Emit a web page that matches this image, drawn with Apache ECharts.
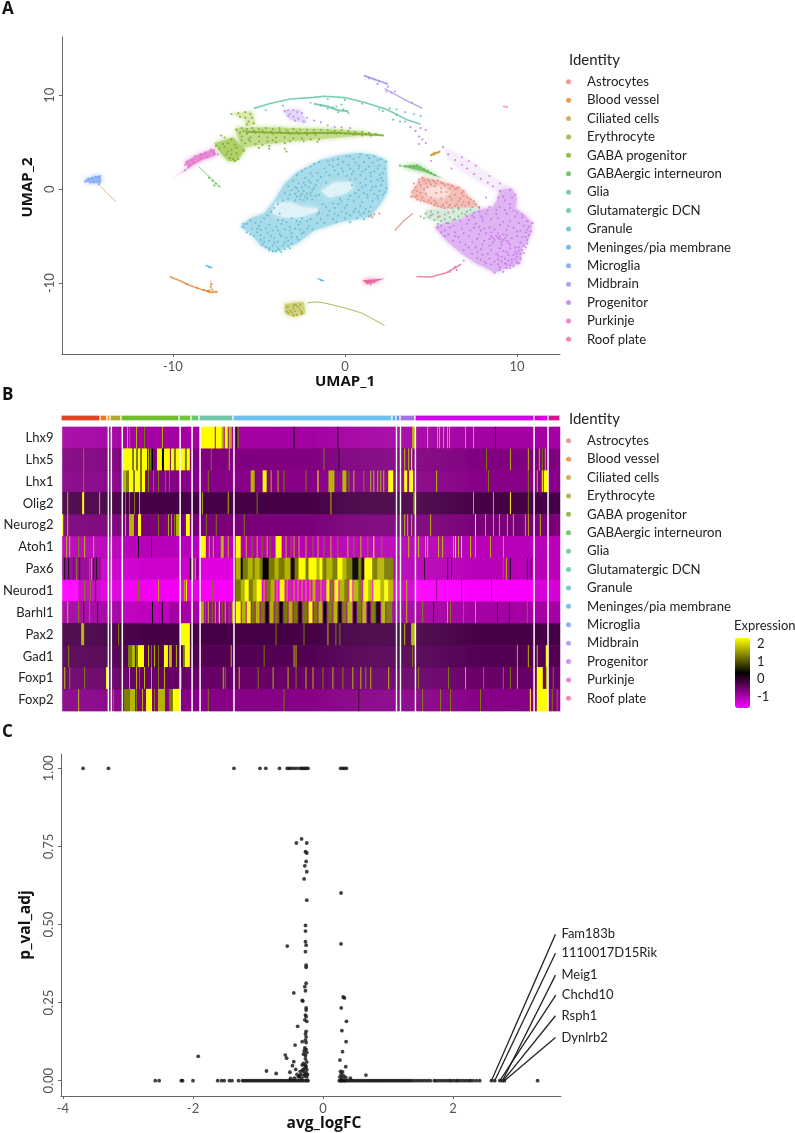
<!DOCTYPE html>
<html><head><meta charset="utf-8">
<style>html,body{margin:0;padding:0;background:#fff}#main{width:795px;height:1133px;filter:blur(0.6px)}</style>
<script src="https://cdn.jsdelivr.net/npm/echarts@6/dist/echarts.min.js"></script></head>
<body><div id="main"></div>
<script>
// ---- identities
const identities=['Astrocytes','Blood vessel','Ciliated cells','Erythrocyte','GABA progenitor','GABAergic interneuron','Glia','Glutamatergic DCN','Granule','Meninges/pia membrane','Microglia','Midbrain','Progenitor','Purkinje','Roof plate'];
const identityColors=['#e5837b','#e0862e','#cc9a2f','#a3a42a','#7ca824','#55b647','#5fbf85','#5bbfa5','#5cb8d0','#50b0ea','#6f9df5','#a98bf0','#cb72e8','#e268c8','#e86aa0'];
const stripColors=['#e0431f','#e87c22','#dba32e','#b3a82e','#6fbf2c','#6ec83a','#62c86c','#6ec8a8','#6cc0ee','#5eb0f0','#6a94f0','#a473e8','#d000ee','#d400e0','#d8128e'];
// ---- heatmap: cells per identity
const cellCounts=[39,7,3,11,58,12,8,34,159,4,4,15,119,14,12];
const genes=['Lhx9','Lhx5','Lhx1','Olig2','Neurog2','Atoh1','Pax6','Neurod1','Barhl1','Pax2','Gad1','Foxp1','Foxp2'];
const geneBase=[-0.95,-0.66,-0.72,-0.22,-0.62,-1.1,-1.1,-1.5,-0.95,-0.22,-0.32,-0.48,-0.72];
const Y=2.34,T=1.75,O=1.3,D=0.3,K=0.1;
const Lhx9=[[65,T],[67,O],[74,T],[82,O],[100,T],[139,152,Y],[154,159,Y],[160,161,T],[163,165,Y],[167,169,T],[174,D],[176,O],[232,D],[276,D],[351,353,T],[366,T],[376,T],[378,T],[382,T],[386,T],[388,T],[404,T],[412,T],[434,K]];
const Lhx5=[[21,O],[61,69,Y],[70,71,O],[72,73,Y],[74,75,O],[76,77,Y],[78,79,O],[80,84,Y],[86,T],[88,O],[90,D],[95,99,Y],[100,101,D],[102,107,Y],[109,111,Y],[112,113,O],[114,116,Y],[119,122,Y],[123,124,O],[125,127,Y],[149,O],[167,T],[262,O],[277,K],[343,T],[347,T],[350,Y],[425,O],[449,T],[467,T],[478,T],[481,O],[484,T]];
const Lhx1=[[21,O],[61,63,T],[64,66,O],[67,70,Y],[71,72,O],[73,77,Y],[78,79,O],[80,82,Y],[86,O],[91,O],[96,O],[103,O],[107,O],[146,O],[189,192,T],[201,204,Y],[209,T],[216,T],[222,O],[244,O],[256,Y],[267,272,T],[281,284,T],[287,O],[292,T],[302,O],[309,T],[312,T],[316,T],[319,T],[322,T],[327,331,Y],[343,345,Y],[348,351,Y],[375,T],[427,O],[467,O],[476,T],[481,Y],[483,485,Y]];
const Olig2=[[5,T],[20,21,Y],[37,T],[63,O],[67,O],[72,O],[77,T],[140,T],[166,T],[195,O],[269,T],[352,O],[412,T],[432,T],[449,Y],[467,O],[472,473,Y]];
const Neurog2=[[0,Y],[5,T],[63,T],[67,71,T],[76,78,Y],[96,O],[106,T],[109,T],[112,O],[114,117,T],[124,127,Y],[144,O],[154,O],[182,O],[343,T],[346,T],[350,T],[369,T],[414,Y],[424,T],[432,T],[438,T],[446,T],[452,T],[464,T],[467,T],[479,T]];
const Atoh1=[[4,T],[7,T],[16,O],[22,T],[31,T],[76,K],[89,K],[139,143,Y],[147,T],[151,T],[159,161,T],[166,T],[174,178,Y],[184,T],[190,O],[195,T],[200,O],[205,T],[208,O],[214,219,Y],[224,T],[229,O],[232,T],[237,T],[244,T],[251,O],[256,T],[262,O],[269,T],[276,O],[286,T],[292,O],[299,T],[306,O],[312,Y],[320,O],[347,T],[357,T],[364,T],[366,T],[377,T],[381,T],[392,T],[394,Y],[397,T],[400,Y],[409,T],[414,T],[429,T],[442,T]];
const Pax6=[[0,38,-0.85],[2,D],[6,D],[11,K],[14,O],[17,D],[27,O],[29,T],[31,D],[34,K],[39,60,-1.25],[61,127,-1.28],[128,K],[131,O],[133,T],[135,K],[137,172,-1.42],[174,178,T],[179,180,D],[181,185,O],[186,190,T],[191,192,O],[193,197,T],[198,200,O],[201,206,D],[207,212,O],[213,216,T],[217,222,O],[223,228,T],[229,232,K],[233,236,O],[237,243,Y],[244,246,O],[247,254,Y],[255,257,T],[258,260,Y],[261,264,O],[265,270,T],[271,275,O],[276,280,Y],[281,284,T],[285,290,O],[291,296,D],[297,299,O],[300,302,K],[303,310,Y],[311,315,O],[316,322,T],[323,331,O],[363,K],[386,D],[390,K],[442,O],[445,T],[449,K],[466,K],[470,D]];
const Neurod1=[[0,15,-1.66],[16,38,-1.25],[22,O],[28,O],[33,K],[39,60,-1.4],[61,120,-1.55],[76,O],[96,T],[122,T],[124,Y],[137,172,-1.62],[150,O],[174,178,O],[179,182,T],[183,186,Y],[187,190,O],[191,194,T],[195,199,Y],[202,T],[205,208,O],[209,212,T],[215,T],[218,222,Y],[225,T],[228,O],[232,T],[236,T],[240,T],[244,T],[248,T],[251,253,T],[256,O],[259,T],[262,O],[265,267,Y],[269,271,O],[273,276,Y],[278,282,T],[283,286,O],[288,290,Y],[292,296,T],[297,300,O],[302,306,Y],[307,310,T],[312,318,Y],[319,322,T],[323,326,Y],[327,331,T],[340,353,-1.3],[345,T],[355,472,-1.62],[375,-0.8],[400,-0.8],[430,-0.8],[474,498,-1.35]];
const Barhl1=[[5,T],[16,O],[21,D],[27,O],[35,D],[61,107,-1.15],[90,D],[100,K],[139,141,T],[143,O],[146,T],[150,O],[153,T],[157,Y],[160,O],[163,T],[167,O],[170,T],[174,178,Y],[180,183,T],[185,188,Y],[190,192,O],[194,197,T],[199,202,O],[204,206,D],[208,211,T],[213,216,O],[218,220,D],[222,225,O],[227,230,T],[232,235,O],[237,239,D],[241,245,O],[247,250,Y],[252,255,O],[257,260,T],[262,264,D],[266,270,O],[272,275,T],[277,279,D],[281,284,O],[286,290,T],[292,294,D],[296,299,O],[301,304,T],[306,308,K],[310,313,O],[315,318,D],[320,323,T],[325,330,O],[345,T],[361,O],[372,D],[386,T],[389,O],[402,O],[414,T],[436,D],[448,D],[466,O]];
const Pax2=[[19,21,T],[56,O],[119,127,Y],[214,O],[242,O],[266,T],[274,O],[278,O],[343,T],[350,352,T]];
const Gad1=[[6,O],[66,69,O],[70,72,T],[74,75,O],[76,81,Y],[86,T],[89,O],[92,T],[96,O],[102,105,Y],[107,109,T],[114,T],[121,122,O],[123,127,Y],[169,T],[202,O],[232,T],[234,T],[351,O],[456,T],[467,T],[476,T],[485,Y]];
const Foxp1=[[2,T],[7,O],[22,O],[44,Y],[46,T],[67,T],[74,T],[77,O],[82,T],[89,T],[96,O],[102,T],[119,O],[129,T],[161,T],[163,O],[177,T],[196,O],[211,T],[226,T],[234,O],[244,T],[251,T],[261,O],[271,T],[281,O],[291,T],[299,T],[304,O],[309,T],[327,T],[357,O],[387,O],[404,T],[422,O],[442,O],[449,O],[456,T],[476,481,Y],[485,T],[492,O]];
const Foxp2=[[16,T],[51,O],[62,67,O],[68,72,T],[74,O],[80,T],[84,89,Y],[92,O],[96,102,T],[107,110,O],[111,116,Y],[146,O],[222,O],[297,K],[361,O],[379,O],[389,O],[419,O],[469,Y],[476,486,Y],[491,O],[496,O]];
const geneRuns=[Lhx9,Lhx5,Lhx1,Olig2,Neurog2,Atoh1,Pax6,Neurod1,Barhl1,Pax2,Gad1,Foxp1,Foxp2];
// ---- UMAP clusters: individual cells
const astrocytes=[[4.5,1.2],[4.3,.7],[4.1,.2],[3.9,-.3],[3.85,-.8],[4.2,-1.1],[4.6,-1.3],[5,-1.5],[5.4,-1.8],[5.8,-2],[6.2,-2],[6.6,-1.9],[7,-1.8],[7.4,-1.9],[7.8,-1.9],[7.5,-1.3],[7.1,-.9],[6.8,-.4],[6.4,0],[6.6,.2],[6,.5],[5.6,.7],[5.1,.9],[4.8,1],[5.2,.3],[4.8,.2],[5.6,.1],[5.9,-.3],[5.3,-.4],[4.7,-.5],[4.4,-.4],[5,-.9],[5.6,-1],[6.2,-1.1],[6.6,-1.3],[5.9,-1.4],[5.2,-1.2],[6.9,-1.4],[5,-2.8],[5.4,-3],[6,-2.5],[4.4,-2.9],[1.4,-2.9],[1.7,-2.7],[2,-2.6],[1.6,-3],[4.7,.6],[5.3,.6],[6.1,.1],[4.2,-.7],[4.5,-.9],[6.4,-.6],[4.3,1],[4.4,.4],[4.6,0],[4.2,-.2],[4.9,-1.2],[5.3,-1.5],[5.7,-1.7],[6.1,-1.7],[6.5,-1.6],[7.2,-1.6],[7.6,-1.6],[6.9,-.7],[6.3,.3],[5.8,.4],[5.4,.9],[5,.5],[5.6,-.3],[6.1,-.8],[6.7,-1],[4,.6],[4,-.1],[4.1,-.8],[4.4,-1.2],[4.8,-1.4],[5.2,-1.7],[5.6,-1.9],[6,-1.9],[6.4,-1.8],[6.8,-1.7],[7.2,-1.4],[7.3,-1.1],[6.9,-.2],[6.5,.1],[6.2,.4],[5.7,.6],[5.2,.8],[4.9,.8],[4.6,.9]];
const bloodVessel=[[-8.2,-10.75],[-8,-10.85],[-7.9,-10.95],[-7.7,-11],[-7.5,-10.9],[-7.9,-10.8],[-7.7,-10.7],[-7.8,-10.4],[-7.75,-10.1],[-8.6,-10.5],[-9.2,-10.1]];
const ciliated=[[5,3.6],[5.1,3.75],[5.2,3.7],[5.3,3.85],[5.4,3.9],[5.5,4],[5.2,3.9]];
const erythrocyte=[[-3.3,-12.5],[-3,-12.7],[-2.7,-12.6],[-2.9,-13],[-3.2,-12.9],[-2.6,-12.9],[-3.1,-13.1],[-2.8,-12.4],[-3.4,-12.6],[-2.5,-13.1],[-3,-12.4],[-3.3,-13.2],[-2.9,-12.3],[-2.6,-12.3],[-3.4,-13],[-2.8,-13.4],[-3,-13.4],[-2.5,-13.3]];
const gabaProgenitor=[[-6.3,6.3],[-6,6.5],[-5.7,6.4],[-5.4,6.5],[-5,6.4],[-4.6,6.5],[-4.2,6.4],[-3.8,6.5],[-3.4,6.3],[-3,6.4],[-2.6,6.3],[-2.2,6.3],[-1.8,6.3],[-1.4,6.3],[-1,6.3],[-.6,6.2],[-.2,6.3],[.2,6.2],[.6,6.1],[1,6.1],[1.4,6],[1.8,5.9],[2.2,5.7],[-1,5.9],[-.5,5.9],[0,5.9],[.5,5.8],[1,5.7],[1.5,5.7],[-6,5.6],[-5.5,5.5],[-5,5.6],[-4.5,5.5],[-4,5.5],[-3.5,5.5],[-3,5.4],[-2.5,5.4],[-2,5.3],[-1.5,5.3],[-5.8,4.9],[-5.2,4.8],[-4.8,4.7],[-4.4,4.6],[-6.5,3.2],[-6.4,3],[-6.7,3.3],[-6.2,3.2],[-6.9,3.7],[-7.3,4.3],[-7.5,4.6],[-7,4.5],[-6.6,4.2],[-6.3,3.8],[-5.9,4.1],[-6.6,8],[-6.2,8.1],[-5.8,8.2],[-5.5,8],[-5.4,7.6],[-5.6,7.2],[-5.3,7],[-5.8,7.6],[-5.7,6.9],[-6.1,7.7],[-7.2,5.7],[-7,5.5],[-6.6,5.3],[-3.5,4.3],[-3.4,4],[-6.1,6],[-5.7,5.9],[-5.2,6],[-4.7,6],[-4.2,5.9],[-3.7,6],[-3.2,5.9],[-2.7,5.9],[-2.2,5.8],[-1.7,5.8],[-6.8,4.9],[-6.4,4.7],[-6,5.2],[-5.5,5.1],[-5,5.1],[-4.5,5.1],[-4,5],[-3.5,4.9],[-6.8,4],[-7.1,4.8],[-6.6,3.7],[-6.3,4.4],[-5.9,6.2],[-5.3,6.2],[-4.8,6.2],[-4.3,6.1],[-3.8,6.2],[-3.3,6.1],[-2.8,6.1],[-2.3,6],[-1.8,6],[-1.3,6],[-.8,6.05],[-.3,6],[.2,5.95],[.7,5.9],[1.2,5.85],[-5.6,5.3],[-4.2,5.2],[-3.2,5.1],[-2.4,5.1],[-1.6,5.05],[-5,4.4],[-4.4,4.3]];
const gabaergic=[[3.2,2.5],[3.5,2.4],[3.8,2.4],[4,2.4],[4.2,2.5],[4.4,2.3],[4.6,2.1],[4.8,1.9],[5,1.7],[5.2,1.5],[-7.9,1.2],[-7.7,.9],[-7.5,.6],[-7.3,.3],[-7.6,.4]];
const glia=[[4.7,-2.6],[5,-2.4],[5.4,-2.5],[5.8,-2.7],[6.1,-3],[6.4,-3.2],[6.8,-2.6],[7.1,-2.4],[7.5,-2.5],[7.8,-2],[5.2,-3.3],[5.6,-3.4],[6,-3.6],[4.9,-3],[6.6,-2.1],[7.3,-2.2],[5.5,-2.9],[6.3,-2.4],[5.1,-2.7],[5.8,-3.2],[6.6,-2.9],[7,-2.7],[4.6,-3.1],[5.4,-3.7]];
const glutamatergic=[[-1,9.6],[0,9.5],[1,9.1],[2,8.5],[3,7.9],[3.5,7.2],[-1.4,8.9],[-1,8.6],[-.7,8.7],[-.4,8.2],[-.1,8.5],[.2,8.1],[-.5,8.8],[-.2,9],[2.2,8.3],[2.6,8.6],[3,8.5],[3.5,8.2],[4,8],[4.4,7.8],[3.2,7.2],[2.8,7.4],[-4.6,8.4],[-3.6,8.9],[-2,9.2]];
const granule=[[.9,3.7],[1.3,3.6],[1.7,3.5],[2.1,3.2],[2.4,2.9],[.1,3.5],[.5,3.2],[-.4,3.2],[-1,3],[-1.5,2.9],[-2,2.4],[-2.5,1.9],[-2.8,1.5],[-3,.9],[-3.3,.3],[-3.5,-.4],[-2.7,.6],[-2.3,.4],[-2,.7],[-1.7,.4],[-2.4,-.2],[-2,-.4],[-1.7,-.7],[-2.6,-.7],[-2.2,-1],[-1.9,1.4],[-1.4,1.3],[-.9,1.5],[-.4,1.6],[.1,1.4],[-.2,2.2],[.3,2.2],[.8,2.2],[1.2,2.1],[1.7,1.9],[2.2,1.7],[.6,1.1],[1.2,1.1],[1.9,1],[.4,.4],[1.2,.4],[1.8,.3],[2.4,.1],[1.1,-.4],[1.7,-.5],[2.2,-.6],[.3,-.7],[-.2,-1.3],[.5,-1.3],[1,-1.4],[1.6,-1.3],[-.6,-2],[0,-2],[.6,-2.1],[1.2,-2.1],[-1,-2.8],[-.4,-2.8],[.3,-2.8],[.9,-2.7],[1.5,-2.8],[-1.6,-2.7],[-2.2,-3.4],[-2.8,-3.4],[-3.4,-3.5],[-3.9,-3.3],[-4.5,-2.8],[-4.1,-2],[-3.6,-1.2],[-5.9,-4],[-5.4,-4.2],[-4.9,-4.3],[-4.2,-4.4],[-3.5,-4.3],[-2.9,-4.2],[-5.3,-5],[-4.7,-5.2],[-4.1,-5.2],[-3.4,-5.2],[-2.8,-5.1],[-4.8,-5.9],[-4.2,-6],[-3.6,-6],[-3.1,-5.8],[-4.2,-6.6],[-3.7,-6.7],[-4.6,-6.2],[-3.5,-6.4],[-5.5,-3.3],[-4.9,-3.5],[-1.9,-4.3],[-1.2,-3.6],[-.5,-3.5],[.3,-3.5],[1.1,-3.2],[-2.4,-4.6],
[-2.7,-.2],[-2.5,.2],[-2.2,-.5],[-1.9,-.1],[-2.9,-.5],[-3.1,-.1],[-2.6,-1.1],[-2.9,.2],[-2.1,.9],[-1.6,.9],[-1.1,.7],[-1.2,2.2],[-.7,2.4],[-.1,2.9],[.6,2.8],[1.1,2.9],[1.6,2.8],[2,2.5],[2.3,2.2],[.4,1.6],[.9,1.5],[1.5,1.4],[2.1,1.2],[1.5,.8],[.9,.7],[2.1,.4],[.8,-.1],[1.5,-.1],[2,-.2],[.8,-.8],[1.3,-.9],[1.9,-1],[.1,-1.7],[.9,-1.8],[1.5,-1.9],[-.4,-1.6],[-1.1,-1.9],[-.9,-2.3],[-.2,-2.4],[.5,-2.4],[1.1,-2.5],[-1.4,-3.2],[-.7,-3.2],[0,-3.1],[.7,-3.1],[-3.1,-3.1],[-2.5,-3.1],[-3.7,-3.7],[-4.4,-3.8],[-5,-3.9],[-5.7,-3.7],[-2.1,-3.9],[-2.7,-3.8],[-3.2,-4],[-4,-4],[-5.7,-4.6],[-5.1,-4.6],[-4.5,-4.7],[-3.8,-4.8],[-3.1,-4.7],[-2.5,-4.7],[-4.9,-5.4],[-4.4,-5.5],[-3.9,-5.6],[-3.3,-5.5],[-4.4,-6.3],[-3.9,-6.3],[-3.3,-6.1],[-4,-6.6],[-4.7,-3.1],[-4.3,-2.4],[-3.8,-2.6],[-3.9,-1.6],
[-2.8,.1],[-2.4,.7],[-2.1,.2],[-1.8,.1],[-2.5,-.5],[-2.3,-.8],[-2,-.7],[-2.8,-.8],[-3.2,-.6],[-3.3,-1],[-2.9,-1.2],[-2.4,-1.2],[-1.9,-1.1],[-1.5,-.6],[-2.3,1.2],[-2,1.7],[-1.6,1.7],[-1.1,1.8],[-.6,2],[-.1,1.9],[.5,1.9],[1,1.9],[1.5,1.7],[2,1.5],[-.9,2.6],[-.4,2.6],[.2,2.6],[.8,2.5],[1.4,2.4],[1.9,2.2],[-1.8,2.7],[-2.3,2.2],[-.7,3.1],[.3,3.5],[.8,3.4],[1.4,3.3],[1.9,3.1],[.3,1],[1,.2],[1.6,.2],[2.2,.9],[2.3,-.3],[1.9,-.7],[1.3,-.6],[.6,-.4],[.2,-1.1],[-.3,-1],[-.7,-1.5],[-1.3,-1.6],[-1.5,-2.5],[-.6,-2.6],[.1,-2.6],[.8,-2.4],[1.4,-2.4],[-2,-3.2],[-1.6,-3.6],[-2.6,-3.5],[-3.6,-3.3],[-5.9,-3.7],[-5.2,-3.6],[-5.1,-4.2],[-4.6,-4.2],[-3.9,-4.4],[-3.2,-4.4],[-2.6,-4.3],[-2.2,-4.2],[-5.5,-4.8],[-4.9,-4.9],[-4.3,-5],[-3.7,-5],[-3.1,-5.1],[-2.7,-5.4],[-4.7,-5.6],[-4.1,-5.7],[-3.5,-5.7],[-4.4,-6.5],[-3.8,-6.5],[-3.2,-6.3]];
const meninges=[[-7.9,-8.3],[-1.4,-9.7]];
const microglia=[[-14.9,1.1],[-14.7,1.2],[-14.5,1.3],[-14.3,1.3],[-14.25,.9],[-14.6,.7],[-15.1,.8],[-14.8,.7],[-14.3,.5]];
const midbrain=[[1.4,11.8],[1.7,11.7],[2,11.5],[2.5,10.9],[2.4,10.4],[2.7,10.3],[3.9,9.2],[-3.5,8.3],[-3.3,8.4],[-3,8.4],[-2.8,8.2],[-2.5,8.1],[-3.3,7.8],[-3,7.7],[-2.7,7.5],[-2.4,7.2],[-2.9,7.3],[-2.2,7.6],[-1.8,7.3],[-1.4,7.1],[-1,6.8],[-.6,6.6],[-3.2,8],[1.9,11.2],[2.9,10.4],[8,-3.4],[7.9,-2.9],[7.4,-2.8],[-.2,6.6],[.3,6.5]];
const progenitor=[[8.7,-8.9],[9,-8.6],[9.4,-8.4],[9.8,-8.2],[10.1,-7.9],[9.3,-7.9],[9.7,-7.5],[10,-7.2],[10.2,-6.9],[9.5,-7],[9.9,-6.7],[8.9,-7.5],[8.5,-8],[8.1,-7.7],[7.7,-7.3],[7.4,-6.9],[8,-7],[8.5,-6.5],[9,-6.3],[10.1,-6.2],[10.4,-6],[10.2,-5.7],[10.6,-5.4],[10.3,-5.1],[8.7,-5.4],[8.9,-5.2],[9.1,-5.6],[9.3,-5.2],[8.5,-5],[9.5,-5.7],[9,-5],[9.2,-4.8],[8.2,-4.7],[7.9,-4.4],[7.5,-4.1],[7.1,-3.7],[6.7,-3.4],[6.3,-3.9],[5.8,-4.4],[5.4,-4.1],[5.9,-3.6],[7.2,-5],[7.7,-5.3],[6.6,-5.1],[7,-5.9],[8,-5.9],[10.7,-4],[10.9,-3.6],[10.6,-3.4],[10.3,-3],[10,-2.5],[9.6,-2],[9,-1.9],[8.4,-1.9],[7.8,-2.4],[8.5,-3.2],[9.2,-3.5],[9.8,-4.1],[10.2,-4.4],[9.4,-4.3],[8.7,-4.3],[7.5,-3],[9.9,-.6],[9.6,-.1],[9,-.2],[8.6,.3],[8.3,.7],[7.9,1.1],[7.5,1.6],[7.1,2.2],[6.8,2.6],[6.4,3.1],[6,3.7],[5.7,4.5],[7.6,2.5],[7.2,3],[6.8,3.4],[8.4,1.4],[9,.6],[8.9,-.9],[8.2,-.9],[3.8,6.6],[4.1,6.2],[4.3,5.6],[4.7,4.9],[4.3,4.8],[4.5,5.3],[4.7,6.3],[4.4,6.5],[5,3],[6.2,2.2],
[8.8,-5],[9,-5.3],[8.6,-5.2],[9.2,-5.4],[8.4,-5.3],[9.4,-5.5],[9.6,-5.9],[8.9,-4.7],[9.4,-4.9],[9.7,-5.2],[10.3,-6.5],[10.1,-6.6],[10.4,-6.8],[9.9,-6.2],[10.5,-6.2],[10.6,-5.8],[9.5,-7.6],[9.3,-7.4],[9.7,-7.8],[9.1,-7.7],[9.9,-7.5],[9.4,-8],[8.9,-8],[9,-8.3],[9.6,-8.1],[8.4,-7.4],[7.9,-6.4],[8.4,-6],[9.2,-6.6],[7.4,-5.6],[6.9,-4.7],[6.4,-4.6],[7.8,-4.8],[8.4,-4.1],[9,-3.8],[9.6,-3.4],[10.1,-3.6],[10.5,-4.6],[10.7,-4.9],[10,-5],[8.2,-2.6],[8.8,-2.6],[9.4,-2.6],[9.9,-2.9],[7.1,-2.9],[6.3,-3.3],[5.8,-5],[6.3,-5.5],[6.9,-6.5],[7.6,-6.2],
[8.5,-4.6],[8.1,-4.2],[7.6,-3.7],[7.2,-3.3],[8,-3.1],[8.9,-3.1],[9.5,-3.9],[10,-4.5],[10.4,-3.9],[10.6,-4.3],[8.1,-5.5],[8.6,-5.7],[9.1,-5.9],[9.6,-6.3],[9.4,-6.7],[8.8,-6.9],[8.3,-6.9],[7.7,-6.7],[7.2,-6.2],[6.7,-5.6],[6.4,-5],[6,-4.8],[5.6,-4.6],[5.6,-3.9],[6.1,-4.1],[6.8,-4.2],[7.3,-4.4],[7.8,-4],[8.9,-7.1],[9.1,-7.2],[8.7,-7.7],[8.2,-7.9],[7.9,-7.5],[9.8,-7],[10,-6.9],[10.2,-7.4],[10,-7.8],[9.6,-8.4],[9.2,-8.8],[10.5,-5.1],[10.8,-4.5],[10.3,-2.7],[9.8,-2.3],[9.3,-2.2],[8.8,-2.2],[8.3,-2.3],[9.3,-1.2],[9.6,-1.6],[9.2,-.8],[9.7,-.9]];
const purkinje=[[-9.3,2],[-9.1,2.3],[-9.3,2.6],[-9.2,2.9],[-8.9,3.1],[-8.7,3.5],[-8.4,3.7],[-8.1,3.9],[-7.8,4.2],[-7.6,3.8],[-8,3.5],[-8.4,3.3],[-8.8,2.8],[-9,2.5],[-7.7,4],[-8.2,3.7],[-7.4,3.7]];
const roofPlate=[[1.3,-10],[1.5,-10.1],[1.7,-9.9],[1.4,-9.85],[6.5,-8.6],[6.1,-8.8],[6.9,-7.6],[6.4,-8.3],[9.25,8.8],[9.4,8.75]];
const umapClusters=[astrocytes,bloodVessel,ciliated,erythrocyte,gabaProgenitor,gabaergic,glia,glutamatergic,granule,meninges,microglia,midbrain,progenitor,purkinje,roofPlate];
// ---- UMAP regions: outlines of the dense cell masses
const granuleArea=[[-6.1,-4],[-5.5,-3.1],[-4.7,-2.6],[-4.1,-1.2],[-3.5,.6],[-2.8,1.8],[-1.4,3.1],[-.3,3.6],[.7,3.85],[1.6,3.7],[2.4,3.1],[2.5,-.1],[2.2,-1.2],[1.5,-2.9],[-.3,-3.5],[-1.8,-4.4],[-2.8,-5.8],[-4.1,-6.7],[-4.9,-6],[-5.5,-4.7]];
const granuleHollowA=[[-4.1,-1.5],[-3.2,-1.4],[-2.5,-1.9],[-1.6,-2],[-1.6,-2.4],[-2.6,-3],[-3.6,-3],[-4.2,-2.6]];
const granuleHollowB=[[-1.4,-.2],[-.6,.7],[.3,.8],[.5,.2],[0,-.5],[-.9,-.9]];
const progenitorArea=[[5.2,-4],[6,-3.4],[7,-2.6],[8,-2.1],[8.6,-1.9],[8.9,-1],[9,-.1],[9.7,.1],[10,-1],[9.9,-2],[10.5,-2.8],[10.9,-3.65],[10.8,-4.8],[10.6,-5.6],[10.3,-6.3],[10.2,-7.9],[9.5,-8.3],[8.7,-8.9],[8.1,-8.3],[7.6,-7.9],[6.75,-6.8],[6.1,-5.8],[5.7,-5.1]];
const progenitorTrail=[[5.7,4.5],[6.6,3.7],[7.6,2.6],[8.7,1.2],[9.6,.2],[9,-.5],[8.2,.4],[7.4,1.2],[6.6,2.2],[6,3.2]];
const astroArea=[[4.46,1.3],[5.5,.9],[6.75,.1],[7.8,-1.9],[6.6,-2.1],[5.7,-2.1],[4.67,-1.4],[3.83,-.8],[4.1,.3]];
const astroHollow=[[4.6,.1],[5.6,.3],[6.1,-.3],[5.7,-1],[4.9,-.8]];
const gliaArea=[[4.7,-2.2],[7.8,-2],[6.9,-3],[5.8,-3.6],[4.7,-3.1]];
const gabaBand=[[-6.4,6.5],[-5,6.6],[-3,6.5],[-1,6.4],[1,6.15],[2.2,5.7],[1,5.7],[-1,5.4],[-3,5.1],[-5,4.7],[-6,4.4]];
const gabaLobe=[[-7.6,4.9],[-6.5,5.5],[-5.8,4.2],[-6.3,3],[-6.8,3],[-7.2,3.8]];
const gabaUpper=[[-6.6,8],[-5.4,8.3],[-5.2,7],[-5.8,6.6],[-5.8,7.5]];
const midbrainPatch=[[-3.6,8.4],[-2.6,8.5],[-2.2,7],[-3.2,7.4]];
const purkinjeArea=[[-10.1,1.1],[-9.1,2.2],[-9.3,2.9],[-8.6,3.6],[-7.6,4.3],[-7.5,3.6],[-8.3,3.1],[-9,2.4]];
const roofArea=[[1,-9.7],[2.3,-9.5],[1.7,-9.9],[1.3,-10.1]];
const gabaergicArea=[[3.2,2.5],[4.2,2.6],[5.7,1.1],[4.5,1.9],[3.8,2.2]];
const microgliaArea=[[-15.1,1.05],[-14.2,1.5],[-14.2,.6],[-14.7,.7],[-15.1,.75]];
const erythroLoop=[[-3.5,-12.2],[-2.4,-12],[-2.3,-13.2],[-3,-13.6],[-3.5,-13.2]];
const umapAreas=[['Granule',granuleArea,'#a8dbea'],['Granule',granuleHollowA,'#def2f7'],['Granule',granuleHollowB,'#def2f7'],['Progenitor',progenitorTrail,'#f7eefc'],['Progenitor',progenitorArea,'#deb4f3'],['Astrocytes',astroArea,'#f2c0b9'],['Astrocytes',astroHollow,'#f9e0dc'],['Glia',gliaArea,'#dae9dc'],['GABA progenitor',gabaBand,'#c2dc8e'],['GABA progenitor',gabaLobe,'#afd06c'],['GABA progenitor',gabaUpper,'#d9e9b2'],['Midbrain',midbrainPatch,'#e4d8fa'],['Purkinje',purkinjeArea,'#e88cd4'],['Roof plate',roofArea,'#e86aa0'],['GABAergic interneuron',gabaergicArea,'#7fc672'],['Microglia',microgliaArea,'#94b6f6'],['Erythrocyte',erythroLoop,'#d2d284']];
// ---- UMAP strands: thin trails of cells
const bloodStrand=[[-10.2,-9.3],[-9.6,-9.75],[-9,-10.25],[-8.4,-10.65],[-7.8,-10.95],[-7.4,-10.95]];
const bloodStem=[[-7.8,-10.7],[-7.8,-9.7]];
const microTail=[[-14.2,.3],[-13.8,-.5],[-13.3,-1.35]];
const erythroTail=[[-2.2,-12.1],[-1.6,-12],[-1,-12.2],[0,-12.65],[1,-13.2],[2.3,-14.5]];
const glutArc=[[-5.3,8.6],[-4.4,9.1],[-3.2,9.6],[-2,9.75],[-1.2,9.9],[0,9.75],[1.2,9.2],[2.4,8.5],[3.6,7.4],[4.4,6.9]];
const glutInner=[[-1.8,9.1],[-1,8.8],[-.4,8.4],[.2,8.3]];
const midbrainTop=[[1.1,12.1],[2,11.5],[2.5,11.2]];
const midbrainLow=[[2.3,10.7],[3.3,9.7],[4.5,8.6]];
const meningesA=[[-8.1,-8.1],[-7.7,-8.4]];
const meningesB=[[-1.6,-9.5],[-1.2,-9.8]];
const roofTail=[[4.15,-9.3],[5,-9.35],[5.9,-8.9],[6.75,-8]];
const gabaergicTail=[[-8.5,2.4],[-7.3,.3]];
const astroStreak=[[2.9,-4.4],[3.4,-3.4],[3.94,-2.6]];
const ciliatedStreak=[[5,3.6],[5.5,4]];
const gabaStreak=[[-5.8,6.1],[-3,5.95],[-.5,6],[2.2,5.75]];
const umapStrands=[['Blood vessel',bloodStrand,1.6],['Blood vessel',bloodStem,.7],['Ciliated cells',microTail,.8],['Erythrocyte',erythroTail,1],['Glutamatergic DCN',glutArc,1.6],['Glutamatergic DCN',glutInner,2],['Midbrain',midbrainTop,2],['Midbrain',midbrainLow,1.3],['Meninges/pia membrane',meningesA,1.6],['Meninges/pia membrane',meningesB,1.4],['Roof plate',roofTail,1.6],['GABAergic interneuron',gabaergicTail,.9],['Astrocytes',astroStreak,1.3],['Ciliated cells',ciliatedStreak,2],['GABA progenitor',gabaStreak,2]];
// ---- volcano
const volcanoTop=[-3.69,-3.3,-1.37,-.97,-.88,-.67,-.55,-.52,-.49,-.45,-.41,-.36,-.33,-.31,-.28,-.26,-.23,.27,.3,.33,.36];
const volcanoBottomX=[-2.58,-2.52,-2.18,-2.16,-2,-1.62,-1.56,-1.52,-1.44,-1.4,-1.3,-1.24,-1.21,-1.18,-1.15,-1.12,-1.09,-1.06,-1.03,-1,-.97,-.94,-.91,-.88,-.85,-.82,-.79,-.76,-.73,-.7,-.67,-.64,-.61,-.58,-.55,-.52,-.49,-.46,-.43,-.4,-.37,-.34,-.31,-.28,-.25,-.23,.25,.27,.29,.31,.33,.35,.38,.41,.44,.47,.5,.53,.56,.59,.62,.65,.68,.71,.74,.77,.8,.83,.86,.89,.92,.95,.98,1.01,1.04,1.07,1.1,1.13,1.16,1.19,1.22,1.25,1.28,1.31,1.34,1.37,1.41,1.45,1.49,1.53,1.57,1.61,1.65,1.71,1.74,1.78,1.82,1.86,1.9,1.94,1.97,2.01,2.05,2.08,2.12,2.16,2.2,2.24,2.27,2.31,2.36,2.41,2.59,2.64,2.72,2.76,2.79,3.3];
const volcanoMid=[[-.33,.774],[-.41,.761],[-.25,.761],[-.27,.733],[-.25,.729],[-.26,.702],[-.28,.688],[-.25,.669],[-.29,.646],[-.25,.578],[-.27,.497],[-.27,.479],[-.55,.431],[-.27,.445],[-.26,.434],[-.27,.413],[-.26,.37],[-.26,.363],[-.26,.312],[-.28,.301],[-.27,.288],[-.45,.281],[-.32,.257],[-.31,.255],[-.26,.233],[-.26,.226],[-.27,.21],[-.28,.195],[-.25,.19],[-.26,.205],[-.39,.174],[-.26,.158],[-.27,.15],[-.26,.14],[-.27,.13],[-.32,.125],[-.43,.114],[-.26,.122],[-.28,.105],[-.26,.1],[-.29,.095],[-.25,.09],[-.27,.08],[-.3,.085],[-.58,.082],[-.56,.072],[-.45,.061],[-.27,.07],[-.25,.06],[-.3,.055],[-.47,.048],[-.26,.045],[-.28,.04],[-.42,.036],[-.32,.05],[-.25,.035],[-.51,.027],[-.87,.031],[-.72,.023],[-.3,.03],[-.26,.025],[-.34,.02],[-.38,.012],[-.29,.015],[-.44,.008],[-.25,.012],[-.33,.008],[-.5,.007],[-.36,.015],[-.28,.02],[-.31,.035],[-.27,.05],[-.24,.02],[-.4,.02],[-.35,.03],[-1.92,.078],[.277,.601],[.277,.438],[.31,.268],[.33,.265],[.28,.233],[.36,.19],[.29,.16],[.355,.125],[.3,.093],[.26,.066],[.35,.045],[.66,.018],[.27,.03],[.3,.028],[.28,.02],[.32,.015],[.26,.012],[.35,.01],[.42,.008],[.29,.008]];
const geneLabels=['Fam183b','1110017D15Rik','Meig1','Chchd10','Rsph1','Dynlrb2'];
const geneLabelFrom=[2.59,2.64,2.76,2.72,2.77,2.79];
const geneLabelTo=[[3.575,.469],[3.575,.408],[3.575,.338],[3.58,.274],[3.575,.208],[3.575,.138]];
// ---- ticks
const umapXTicks=[-10,0,10],umapYTicks=[-10,0,10];
const volcanoXTicks=[-4,-2,0,2],volcanoYTicks=[0,.25,.5,.75,1];
const exprTicks=[-1,0,1,2];

const FONT='Lato';
const axisCommon=(grid,name,gap,ticks,min,max,rot,namePad,nameSize)=>({type:'value',gridIndex:grid,min,max,name,nameLocation:'middle',nameGap:gap,
  nameTextStyle:{fontFamily:'Open Sans',fontWeight:'bold',fontSize:nameSize,color:'#111',padding:namePad},
  axisLine:{show:true,onZero:false,lineStyle:{color:'#666',width:1}},
  axisTick:{show:true,length:3,lineStyle:{color:'#666'},customValues:ticks},
  axisLabel:{show:true,customValues:ticks,rotate:rot,fontFamily:FONT,fontSize:13,color:'#555',margin:6,formatter:rot&&ticks[1]===.25?(v=>v.toFixed(2)):(v=>String(v))},
  splitLine:{show:false}});
const hidden=(grid,o)=>Object.assign({type:'value',gridIndex:grid,show:false,splitLine:{show:false}},o);

// heatmap cells
const nCols=cellCounts.reduce((a,b)=>a+b,0);
const gapCols=new Set();{let c=0;cellCounts.forEach((n,i)=>{c+=n;if(i<cellCounts.length-1&&![1,9,10].includes(i+1)||i===9){gapCols.add(c-1);gapCols.add(c);}});}
const heatData=[];
genes.forEach((g,r)=>{const row=new Array(nCols).fill(geneBase[r]);
  geneRuns[r].forEach(u=>{if(u.length===3){for(let c=u[0];c<=u[1];c++)row[c]=u[2];}else{row[u[0]]=u[1];}});
  row.forEach((v,c)=>{if(!gapCols.has(c))heatData.push([c,r,v]);});});
const colCats=Array.from({length:nCols},(_,i)=>i);

const series=[];
umapAreas.forEach(a=>series.push({type:'custom',name:a[0]+' area',xAxisIndex:0,yAxisIndex:0,data:a[1],encode:{x:0,y:1},silent:true,
  renderItem:(p,api)=>p.dataIndex===0?{type:'polygon',shape:{points:a[1].map(q=>api.coord(q))},style:{fill:a[2],shadowBlur:5,shadowColor:a[2]}}:null}));
umapStrands.forEach(s=>series.push({type:'line',name:s[0]+' strand',xAxisIndex:0,yAxisIndex:0,data:s[1],showSymbol:false,symbol:'none',silent:true,lineStyle:{color:identityColors[identities.indexOf(s[0])],width:s[2],opacity:.8}}));
identities.forEach((n,i)=>series.push({type:'scatter',name:n,xAxisIndex:0,yAxisIndex:0,data:umapClusters[i],symbolSize:2.2,itemStyle:{color:identityColors[i]}}));
identities.forEach((n,i)=>series.push({type:'bar',name:n+' strip',xAxisIndex:1,yAxisIndex:1,stack:'cells',barWidth:'100%',data:[cellCounts[i]],itemStyle:{color:stripColors[i],borderColor:'#fff',borderWidth:.6},silent:true}));
const heatIndex=series.length;
series.push({type:'heatmap',name:'Expression',xAxisIndex:2,yAxisIndex:2,data:heatData,progressive:0,silent:true});
series.push({type:'scatter',name:'Not significant',xAxisIndex:3,yAxisIndex:3,data:volcanoTop.map(x=>[x,1]),symbolSize:3.8,itemStyle:{color:'#111'}});
series.push({type:'scatter',name:'Mid',xAxisIndex:3,yAxisIndex:3,data:volcanoMid,symbolSize:3.8,itemStyle:{color:'#111'}});
series.push({type:'scatter',name:'Significant',xAxisIndex:3,yAxisIndex:3,data:volcanoBottomX.map(x=>[x,0]),symbolSize:3.8,itemStyle:{color:'#111'}});
geneLabels.forEach((g,i)=>series.push({type:'line',name:g,xAxisIndex:3,yAxisIndex:3,data:[[geneLabelFrom[i],0],geneLabelTo[i]],showSymbol:false,symbol:'none',lineStyle:{color:'#222',width:1.3},
  endLabel:{show:true,formatter:g,fontFamily:FONT,fontSize:13,color:'#222',distance:6}}));

const legendBox=(top)=>({orient:'vertical',left:566,top,data:identities,icon:'circle',itemWidth:5,itemHeight:5,itemGap:2.9,selectedMode:false,padding:0,
  textStyle:{fontFamily:FONT,fontSize:13.2,color:'#222',padding:[0,0,0,11],lineHeight:15.5}});
const ttl=(text,left,top,o)=>({text,left,top,padding:0,textStyle:Object.assign({fontFamily:FONT,fontWeight:'normal',fontSize:15,color:'#222'},o||{})});
const panel={fontFamily:'Open Sans',fontWeight:'bold',fontSize:17,color:'#111'};

const option={animation:false,backgroundColor:'#fff',
 title:[ttl('A',2,1,panel),ttl('B',2,387,panel),ttl('C',2,724,panel),
  ttl('Identity',569,53),ttl('Identity',569,412),ttl('Expression',734,619,{fontSize:13})],
 grid:[{left:62,top:37,width:498,height:317},{left:61,top:415,width:499,height:6},{left:61,top:427,width:499,height:284},{left:61,top:754,width:500,height:342},{left:735,top:638,width:15,height:70}],
 legend:[legendBox(74),legendBox(433)],
 xAxis:[axisCommon(0,'UMAP_1',16,umapXTicks,-16.45,12.5,0,[0,0,0,68],15),
  hidden(1,{min:0,max:nCols}),
  {type:'category',gridIndex:2,data:colCats,show:false},
  axisCommon(3,'avg_logFC',16,volcanoXTicks,-4.03,3.66,0,[0,0,0,26],15.5),
  hidden(4,{min:0,max:1})],
 yAxis:[axisCommon(0,'UMAP_2',8,umapYTicks,-17.55,16.2,90,[0,0,0,16],15),
  {type:'category',gridIndex:1,data:['Identity'],show:false},
  {type:'category',gridIndex:2,data:genes,inverse:true,axisLine:{show:false},axisTick:{show:false},axisLabel:{fontFamily:FONT,fontSize:13,color:'#222',margin:9}},
  axisCommon(3,'p_val_adj',27,volcanoYTicks,-.049,1.046,90,[0,0,0,0],15.5),
  {type:'value',gridIndex:4,min:-1.66,max:2.34,position:'right',axisLine:{show:false},axisTick:{show:false,customValues:exprTicks},axisLabel:{customValues:exprTicks,fontFamily:FONT,fontSize:13,color:'#222',margin:7},splitLine:{show:false}}],
 visualMap:[{type:'continuous',seriesIndex:heatIndex,min:-1.66,max:2.34,left:735,top:638,itemWidth:15,itemHeight:70,calculable:false,hoverLink:false,inRange:{color:['#ff00ff','#000000','#ffff00']},textStyle:{color:'transparent',fontSize:1},padding:0}],
 series};
const chart=echarts.init(document.getElementById('main'),null,{renderer:'canvas'});
chart.setOption(option);
</script></body></html>
